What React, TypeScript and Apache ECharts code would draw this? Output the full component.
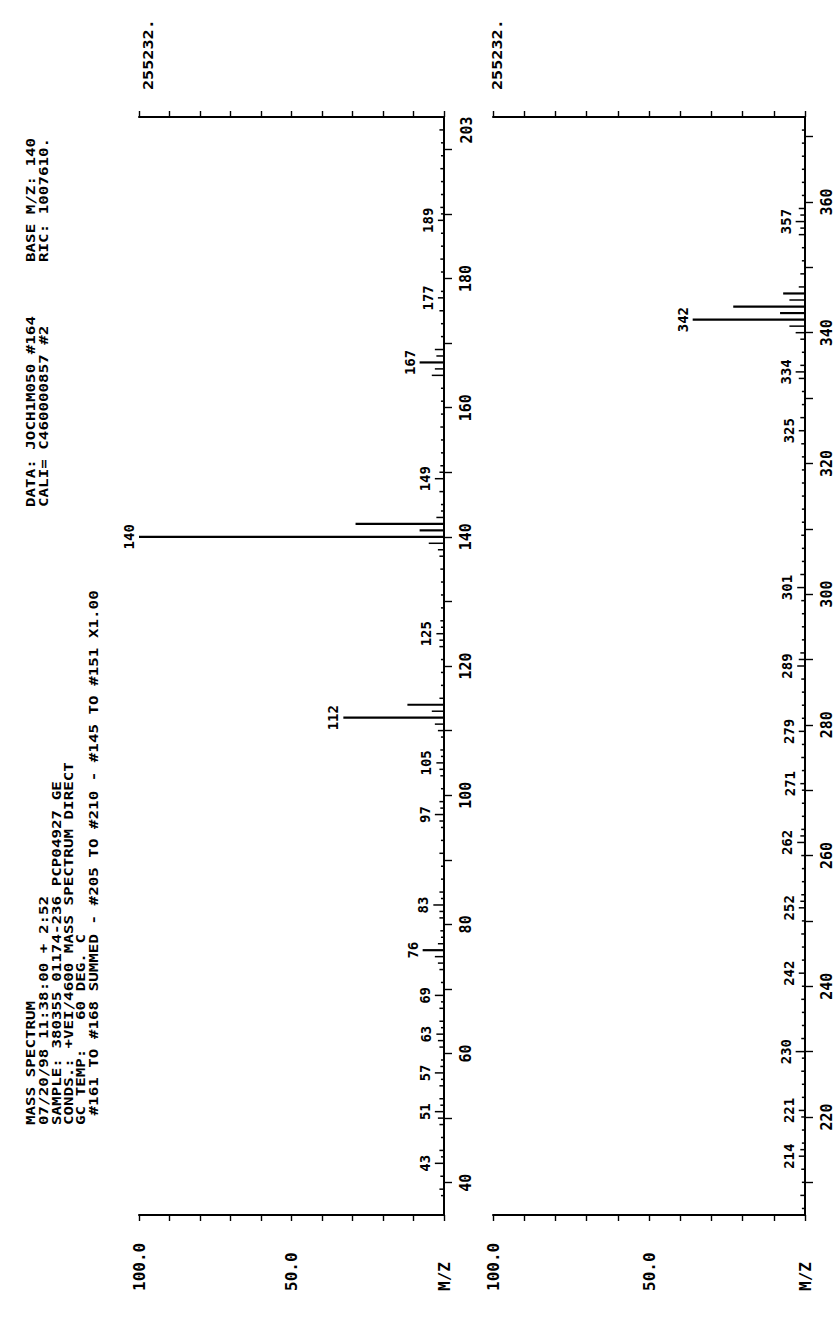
import React, { useEffect, useRef } from 'react';
import * as echarts from 'echarts';

const FONT = "'DejaVu Sans Mono', 'Liberation Mono', monospace";

// ---- header text (reads bottom-to-top in the plot) ----
const headerLower = [
  'MASS SPECTRUM',
  '07/20/98 11:38:00 + 2:52',
  'SAMPLE: 380355 01174-236 PCP04927 GE',
  'CONDS.: +VEI/4600 MASS SPECTRUM DIRECT',
  'GC TEMP:   60 DEG. C',
  ' #161 TO #168 SUMMED - #205 TO #210 - #145 TO #151 X1.00',
];
const headerMiddle = ['DATA: JOCH1M050 #164', 'CALI= C460000857 #2'];
const headerUpper = ['BASE M/Z: 140', 'RIC: 1007610.'];
const fullScaleLabels = ['255232.', '255232.'];

// ---- intensity axis ----
const intensityTickValues = [0, 50, 100];
const intensityTickLabels = ['M/Z', '50.0', '100.0'];

// ---- m/z axes of the two panels ----
const leftRange = [35, 205];
const rightRange = [205, 373];
const leftTicks = [40, 50, 60, 70, 80, 90, 100, 110, 120, 130, 140, 150, 160, 170, 180, 190, 200];
const leftLabels = [40, 60, 80, 100, 120, 140, 160, 180];
const rightTicks = [210, 220, 230, 240, 250, 260, 270, 280, 290, 300, 310, 320, 330, 340, 350, 360, 370];
const rightLabels = [220, 240, 260, 280, 300, 320, 340, 360];
const leftEndLabel = [203];

// ---- peaks: [m/z, relative intensity %] ----
const leftLabeledPeaks = [
  [43, 3], [51, 3], [57, 3], [63, 2.5], [69, 3], [76, 7], [83, 3.5], [97, 3],
  [105, 2.5], [112, 33], [125, 2.5], [140, 100], [149, 3], [167, 8], [177, 2], [189, 2],
];
const leftMinorPeaks = [
  [38, 1], [39, 1.5], [41, 1.2], [44, 1], [45, 1.5], [47, 1], [49, 1.5], [50, 2], [52, 1.2],
  [53, 1.5], [55, 1.5], [56, 1], [58, 1.2], [59, 1], [61, 1.5], [62, 2], [64, 1], [65, 1.5],
  [67, 1.5], [68, 1], [71, 1], [73, 1.5], [74, 2], [75, 3], [77, 2], [78, 1], [79, 1.2],
  [81, 1.5], [82, 1.5], [84, 1], [85, 1.5], [87, 1], [89, 1], [91, 1.5], [93, 1], [95, 1],
  [96, 1.5], [98, 1.2], [99, 1.5], [101, 1], [103, 1.2], [104, 1.5], [106, 1], [107, 1.2],
  [109, 1], [110, 2], [111, 3], [113, 4], [114, 12], [115, 1.5], [117, 1], [119, 1], [121, 1],
  [123, 1.5], [124, 1.5], [126, 1], [127, 1.2], [129, 1], [131, 1], [133, 1], [135, 1.2],
  [137, 1.5], [138, 2], [139, 5], [141, 8], [142, 29], [143, 2.5], [144, 1], [145, 1],
  [147, 1.5], [150, 1.5], [151, 1.2], [153, 1], [155, 1], [157, 1.2], [159, 1], [161, 1],
  [163, 1], [165, 4], [166, 3], [168, 2.5], [169, 3], [171, 1], [173, 1], [175, 1.5],
  [178, 1], [181, 1], [183, 1.2], [185, 1], [187, 1], [190, 1], [191, 1.2], [193, 1],
  [195, 1], [197, 1.2], [199, 1], [201, 1], [203, 1.5],
];
const rightLabeledPeaks = [
  [214, 2], [221, 2], [230, 3], [242, 2], [252, 2], [262, 2.5], [271, 1.5], [279, 2],
  [289, 2.5], [301, 2.5], [325, 2], [334, 3], [342, 36], [357, 3],
];
const rightMinorPeaks = [
  [206, 1], [208, 1.5], [210, 1], [212, 1.2], [215, 1.5], [216, 1], [218, 1], [220, 1.2],
  [223, 1], [225, 1], [227, 1.2], [229, 1], [232, 1.2], [234, 1], [236, 1], [238, 1.2],
  [240, 1], [244, 1], [246, 1], [248, 1.2], [250, 1], [253, 1.5], [254, 1.2], [256, 1],
  [258, 1], [260, 1.2], [263, 1.5], [264, 1.2], [266, 1], [268, 1], [270, 1], [273, 1],
  [275, 1.2], [277, 1], [281, 1], [283, 1], [285, 1], [287, 1.2], [290, 2], [291, 1.5],
  [293, 1], [295, 1], [297, 1], [299, 1.2], [303, 1.5], [305, 1], [307, 1], [309, 1.2],
  [311, 1], [313, 1], [315, 1], [317, 1], [319, 1], [321, 1], [323, 1.2], [327, 1.5],
  [329, 1], [331, 1], [333, 2], [335, 1.5], [337, 1], [339, 1.5], [340, 3], [341, 5],
  [343, 8], [344, 23], [345, 5], [346, 7], [347, 2], [349, 1.5], [351, 1], [353, 1],
  [355, 2], [356, 1.5], [358, 1.5], [359, 2], [361, 1], [363, 1], [365, 1], [367, 1],
  [369, 1], [371, 1],
];

function peakData(minor: number[][], labeled: number[][]) {
  return [
    ...minor.map((p) => [p[1], p[0], 0]),
    ...labeled.map((p) => [p[1], p[0], 1]),
  ];
}

function renderPeak(params: any, api: any) {
  const inten = api.value(0);
  const mz = api.value(1);
  const lab = api.value(2);
  const p0 = api.coord([0, mz]);
  const p1 = api.coord([inten, mz]);
  const children: any[] = [
    {
      type: 'line',
      shape: { x1: p0[0], y1: p0[1], x2: p1[0], y2: p1[1] },
      style: { stroke: '#000', lineWidth: inten > 5 ? 2.2 : 1.5 },
    },
  ];
  if (lab) {
    children.push({
      type: 'text',
      x: p1[0] - 3,
      y: p1[1],
      rotation: Math.PI / 2,
      style: {
        text: String(mz),
        font: `bold 14px ${FONT}`,
        fill: '#000',
        align: 'center',
        verticalAlign: 'bottom',
      },
    });
  }
  return { type: 'group', children };
}

function renderEndLabel(params: any, api: any) {
  const p = api.coord([0, api.value(1)]);
  return {
    type: 'text',
    x: p[0] + 15,
    y: p[1],
    rotation: Math.PI / 2,
    style: { text: String(api.value(1)), font: `bold 15px ${FONT}`, fill: '#000', align: 'center', verticalAlign: 'top' },
  };
}

function intensityAxis(gridIndex: number, position: 'top' | 'bottom') {
  const bottom = position === 'bottom';
  return {
    type: 'value',
    gridIndex,
    position,
    min: 0,
    max: 100,
    interval: 10,
    inverse: true,
    axisLine: { show: true, onZero: false, lineStyle: { color: '#000', width: 2 } },
    axisTick: { show: true, length: 6, lineStyle: { color: '#000', width: 1.4 } },
    axisLabel: bottom
      ? {
          show: true,
          rotate: 90,
          align: 'left',
          margin: 76,
          fontFamily: FONT,
          fontWeight: 'bold',
          fontSize: 16,
          color: '#000',
          formatter: (v: number) => {
            const i = intensityTickValues.indexOf(v);
            return i >= 0 ? intensityTickLabels[i] : '';
          },
        }
      : { show: false },
    splitLine: { show: false },
  };
}

function mzAxis(gridIndex: number, range: number[], ticks: number[], labels: number[]) {
  return {
    type: 'value',
    gridIndex,
    position: 'right',
    min: range[0],
    max: range[1],
    axisLine: { show: true, onZero: false, lineStyle: { color: '#000', width: 2 } },
    axisTick: { show: true, length: 8, customValues: ticks, lineStyle: { color: '#000', width: 1.4 } },
    axisLabel: {
      show: true,
      rotate: 90,
      margin: 14,
      customValues: labels,
      fontFamily: FONT,
      fontWeight: 'bold',
      fontSize: 15,
      color: '#000',
      formatter: (v: number) => (labels.indexOf(v) >= 0 ? String(v) : ''),
    },
    splitLine: { show: false },
  };
}

function headerText(text: string, x: number, y: number, size = 13, sx = 1.22) {
  return {
    type: 'text',
    x,
    y,
    rotation: Math.PI / 2,
    scaleX: sx,
    style: { text, font: `bold ${size}px ${FONT}`, fill: '#000', align: 'left', verticalAlign: 'middle' },
  };
}

export default function App() {
  const ref = useRef<HTMLDivElement>(null);
  useEffect(() => {
    const chart = echarts.init(ref.current!, null, { renderer: 'svg' });
    const colX = [31, 44, 57, 69, 81, 94];
    const graphic: any[] = [];
    headerLower.forEach((t, i) => graphic.push(headerText(t, colX[i], 1125)));
    headerMiddle.forEach((t, i) => graphic.push(headerText(t, colX[i], 507)));
    headerUpper.forEach((t, i) => graphic.push(headerText(t, colX[i], 262)));
    graphic.push(headerText(fullScaleLabels[0], 148, 90, 14, 1.2));
    graphic.push(headerText(fullScaleLabels[1], 497, 90, 14, 1.2));

    chart.setOption({
      animation: false,
      backgroundColor: '#fff',
      grid: [
        { left: 139, top: 117, width: 305, height: 1098 },
        { left: 493, top: 117, width: 313, height: 1098 },
      ],
      xAxis: [
        intensityAxis(0, 'bottom'),
        intensityAxis(0, 'top'),
        intensityAxis(1, 'bottom'),
        intensityAxis(1, 'top'),
      ],
      yAxis: [
        mzAxis(0, leftRange, leftTicks, leftLabels),
        mzAxis(1, rightRange, rightTicks, rightLabels),
      ],
      series: [
        {
          type: 'custom',
          xAxisIndex: 0,
          yAxisIndex: 0,
          clip: false,
          renderItem: renderPeak,
          data: peakData(leftMinorPeaks, leftLabeledPeaks),
        },
        {
          type: 'custom',
          xAxisIndex: 2,
          yAxisIndex: 1,
          clip: false,
          renderItem: renderPeak,
          data: peakData(rightMinorPeaks, rightLabeledPeaks),
        },
        {
          type: 'custom',
          xAxisIndex: 0,
          yAxisIndex: 0,
          clip: false,
          renderItem: renderEndLabel,
          data: leftEndLabel.map((m) => [0, m]),
        },
      ],
      graphic,
    });
    return () => chart.dispose();
  }, []);
  return (
    <div
      ref={ref}
      style={{ position: 'absolute', left: 0, top: 0, width: 834, height: 1322, background: '#fff' }}
    />
  );
}
